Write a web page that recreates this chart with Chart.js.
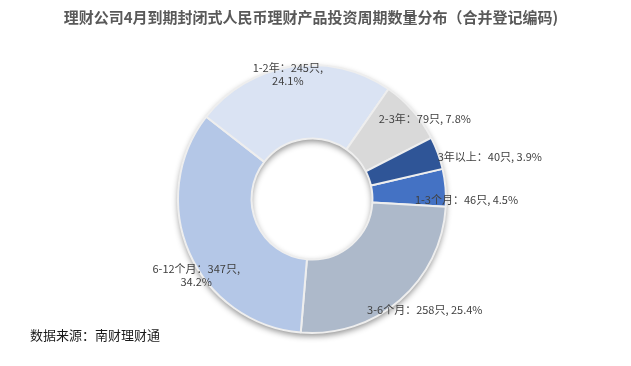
<!DOCTYPE html>
<html>
<head>
<meta charset="utf-8">
<script src="https://cdn.jsdelivr.net/npm/chart.js@4.4.1/dist/chart.umd.min.js"></script>
<style>
html, body { margin: 0; padding: 0; background: #fff; }
#wrap { width: 631px; height: 366px; position: relative; }
</style>
</head>
<body>
<div id="wrap"><canvas id="chart" width="631" height="366"></canvas></div>
<script>
// 数据
const titleText = '理财公司4月到期封闭式人民币理财产品投资周期数量分布（合并登记编码)';
const sourceText = '数据来源：南财理财通';
const categories = ['1-3个月', '3-6个月', '6-12个月', '1-2年', '2-3年', '3年以上'];
const counts = [46, 258, 347, 245, 79, 40];
const shares = ['4.5%', '25.4%', '34.2%', '24.1%', '7.8%', '3.9%'];
const sliceColors = ['#4472C4', '#ADB9CA', '#B4C7E7', '#DAE3F3', '#D9D9D9', '#2F5597'];

const FONT = '"Noto Sans CJK SC", "Noto Sans", sans-serif';

// 标签相对扇区外缘中点的偏移（与数据分开）
const labelLayout = [
    { dx: 21, dy: 12, wrap: false },
    { dx: 25, dy: 10, wrap: false },
    { dx: 7, dy: 23, wrap: true },
    { dx: -4, dy: 8, wrap: true },
    { dx: 12, dy: 8, wrap: false },
    { dx: 52, dy: 4, wrap: false }
];

// 圆环阴影
const ringShadow = {
    id: 'ringShadow',
    beforeDatasetsDraw(chart) {
        const arc = chart.getDatasetMeta(0).data[0];
        if (!arc) return;
        const { x, y, innerRadius, outerRadius } = arc.getProps(['x', 'y', 'innerRadius', 'outerRadius'], true);
        const ctx = chart.ctx;
        ctx.save();
        ctx.shadowColor = 'rgba(0,0,0,0.45)';
        ctx.shadowBlur = 6;
        ctx.shadowOffsetY = 3;
        ctx.fillStyle = '#ffffff';
        ctx.beginPath();
        ctx.arc(x, y, outerRadius, 0, Math.PI * 2);
        ctx.arc(x, y, innerRadius, 0, Math.PI * 2, true);
        ctx.fill('evenodd');
        ctx.restore();
    }
};

// 标题、标签、来源
const textPlugin = {
    id: 'textPlugin',
    afterDraw(chart) {
        const ctx = chart.ctx;
        ctx.save();
        ctx.textBaseline = 'middle';

        ctx.font = 'bold 15px ' + FONT;
        ctx.fillStyle = '#595959';
        ctx.textAlign = 'center';
        ctx.fillText(titleText, 311, 17);

        ctx.font = '11px ' + FONT;
        ctx.fillStyle = '#404040';
        chart.getDatasetMeta(0).data.forEach((arc, i) => {
            const p = arc.getProps(['x', 'y', 'startAngle', 'endAngle', 'outerRadius'], true);
            const mid = (p.startAngle + p.endAngle) / 2;
            const lx = p.x + Math.cos(mid) * p.outerRadius + labelLayout[i].dx;
            const ly = p.y + Math.sin(mid) * p.outerRadius + labelLayout[i].dy;
            const head = categories[i] + '：' + counts[i] + '只,';
            if (labelLayout[i].wrap) {
                ctx.fillText(head, lx, ly - 6.5);
                ctx.fillText(shares[i], lx, ly + 6.5);
            } else {
                ctx.fillText(head + ' ' + shares[i], lx, ly);
            }
        });

        ctx.font = '13px ' + FONT;
        ctx.fillStyle = '#1a1a1a';
        ctx.textAlign = 'left';
        ctx.fillText(sourceText, 30, 335);
        ctx.restore();
    }
};

new Chart(document.getElementById('chart').getContext('2d'), {
    type: 'doughnut',
    data: {
        labels: categories,
        datasets: [{
            data: counts,
            backgroundColor: sliceColors,
            borderColor: '#eeeeee',
            borderWidth: 2,
            hoverOffset: 0
        }]
    },
    options: {
        responsive: false,
        animation: false,
        rotation: 77,
        cutout: 60,
        radius: 134,
        layout: { padding: { left: 0, right: 7, top: 65, bottom: 33 } },
        plugins: {
            legend: { display: false },
            title: { display: false },
            tooltip: { enabled: false }
        }
    },
    plugins: [ringShadow, textPlugin]
});
</script>
</body>
</html>
